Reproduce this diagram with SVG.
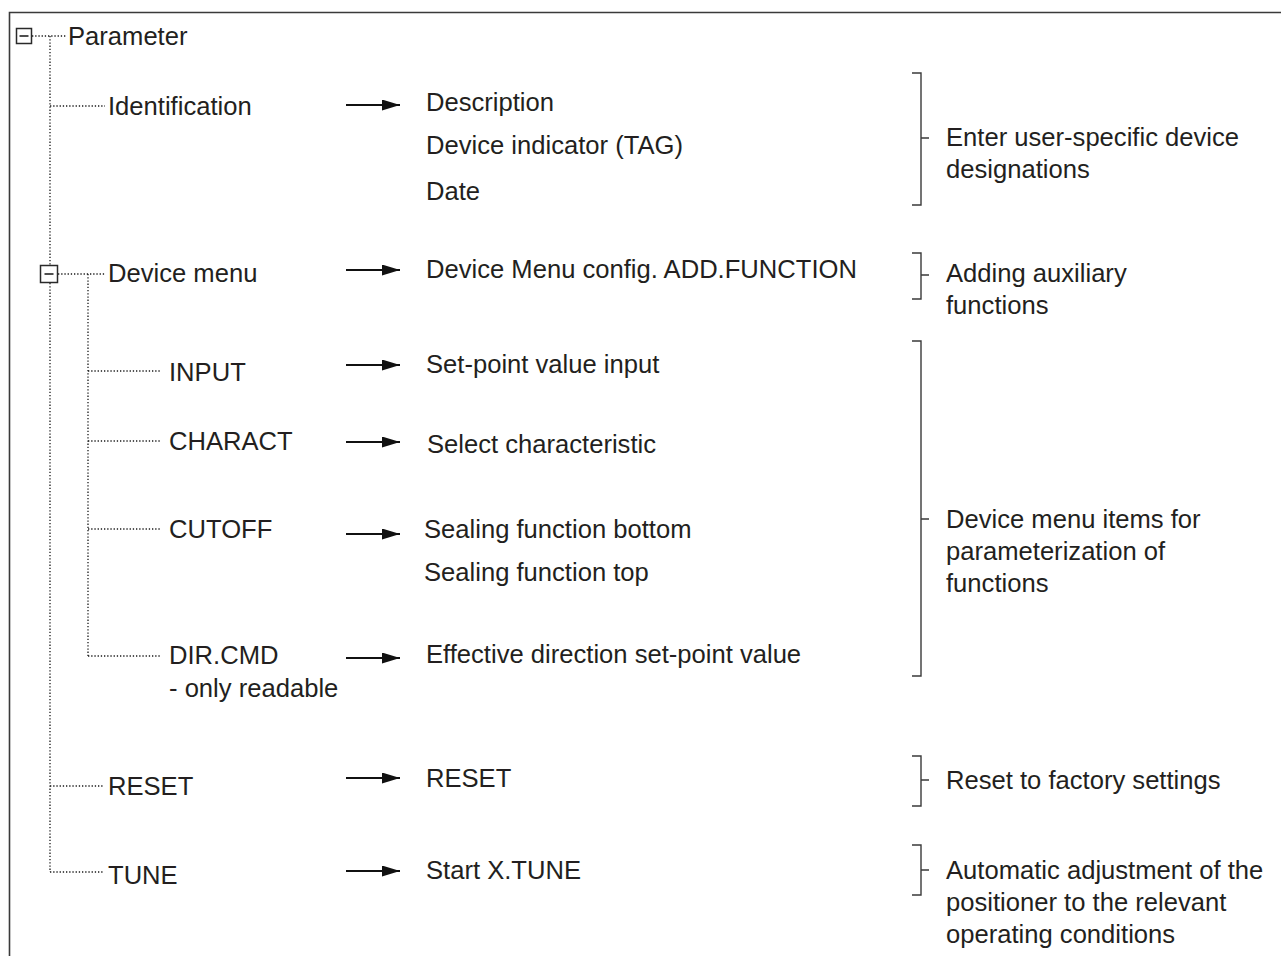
<svg xmlns="http://www.w3.org/2000/svg" width="1281" height="956" viewBox="0 0 1281 956">
<style>
text{font-family:"Liberation Sans",Arial,Helvetica,sans-serif;font-size:25.6px;fill:#231f20}
.dot{stroke:#1a1a1a;stroke-width:1.3;stroke-dasharray:1.3 1.9;fill:none}
.frame{stroke:#3a3a3a;stroke-width:1.6;fill:none}
.br{stroke:#3a3a3a;stroke-width:1.4;fill:none}
.arr{stroke:#111;stroke-width:2.2;fill:none}
.box{stroke:#2a2a2a;stroke-width:1.5;fill:#fff}
.minus{stroke:#222;stroke-width:1.6}
</style>
<defs>
<marker id="ah" viewBox="0 0 10 10" refX="10" refY="5" markerWidth="18" markerHeight="11" markerUnits="userSpaceOnUse" orient="auto" preserveAspectRatio="none">
<path d="M0,0 L10,5 L0,10 Z" fill="#111"/>
</marker>
</defs>
<rect width="1281" height="956" fill="#fff"/>
<path class="frame" d="M9.5,956 V12.5 H1281"/>

<g id="connectors">
<path class="dot" d="M32,36 H66"/>
<path class="dot" d="M50,36 V265 M50,283 V872"/>
<path class="dot" d="M50,106 H105"/>
<path class="dot" d="M58,274 H105"/>
<path class="dot" d="M88,274 V656"/>
<path class="dot" d="M88,371 H160"/>
<path class="dot" d="M88,441 H160"/>
<path class="dot" d="M88,529 H160"/>
<path class="dot" d="M88,656 H160"/>
<path class="dot" d="M50,786 H104"/>
<path class="dot" d="M50,872 H104"/>
<path class="arr" marker-end="url(#ah)" d="M346,105 H400"/>
<path class="arr" marker-end="url(#ah)" d="M346,270 H400"/>
<path class="arr" marker-end="url(#ah)" d="M346,365 H400"/>
<path class="arr" marker-end="url(#ah)" d="M346,442 H400"/>
<path class="arr" marker-end="url(#ah)" d="M346,534 H400"/>
<path class="arr" marker-end="url(#ah)" d="M346,658 H400"/>
<path class="arr" marker-end="url(#ah)" d="M346,778 H400"/>
<path class="arr" marker-end="url(#ah)" d="M346,871 H400"/>
<path class="br" d="M912,73 H921 V205 H912 M921,138 H929"/>
<path class="br" d="M912,253 H921 V299 H912 M921,275 H929"/>
<path class="br" d="M912,341 H921 V676 H912 M921,519 H929"/>
<path class="br" d="M912,756 H921 V806 H912 M921,780 H929"/>
<path class="br" d="M912,845 H921 V895 H912 M921,870 H929"/>
</g>

<g id="parameter">
<rect class="box" x="16.5" y="28.5" width="15" height="15"/>
<path class="minus" d="M19.5,36 H28.5"/>
<text x="68" y="45">Parameter</text>
</g>
<g id="identification"><text x="108" y="115">Identification</text></g>
<g id="identification-items">
<text x="426" y="111">Description</text>
<text x="426" y="154">Device indicator (TAG)</text>
<text x="426" y="200">Date</text>
</g>
<g id="note-identification"><text x="946" y="146">Enter user-specific device</text><text x="946" y="178">designations</text></g>

<g id="device-menu">
<rect class="box" x="40.5" y="265.5" width="17" height="17"/>
<path class="minus" d="M44.5,274 H53.5"/>
<text x="108" y="282">Device menu</text>
</g>
<g id="device-menu-item"><text x="426" y="278">Device Menu config. ADD.FUNCTION</text></g>
<g id="note-device-menu"><text x="946" y="282">Adding auxiliary</text><text x="946" y="314">functions</text></g>

<g id="input"><text x="169" y="381">INPUT</text></g>
<g id="input-item"><text x="426" y="373">Set-point value input</text></g>
<g id="charact"><text x="169" y="450">CHARACT</text></g>
<g id="charact-item"><text x="427" y="453">Select characteristic</text></g>
<g id="cutoff"><text x="169" y="538">CUTOFF</text></g>
<g id="cutoff-items"><text x="424" y="538">Sealing function bottom</text><text x="424" y="581">Sealing function top</text></g>
<g id="dircmd"><text x="169" y="664">DIR.CMD</text><text x="169" y="697">- only readable</text></g>
<g id="dircmd-item"><text x="426" y="663">Effective direction set-point value</text></g>
<g id="note-functions"><text x="946" y="528">Device menu items for</text><text x="946" y="560">parameterization of</text><text x="946" y="592">functions</text></g>

<g id="reset"><text x="108" y="795">RESET</text></g>
<g id="reset-item"><text x="426" y="787">RESET</text></g>
<g id="note-reset"><text x="946" y="789">Reset to factory settings</text></g>

<g id="tune"><text x="108" y="884">TUNE</text></g>
<g id="tune-item"><text x="426" y="879">Start X.TUNE</text></g>
<g id="note-tune"><text x="946" y="879">Automatic adjustment of the</text><text x="946" y="911">positioner to the relevant</text><text x="946" y="943">operating conditions</text></g>
</svg>
